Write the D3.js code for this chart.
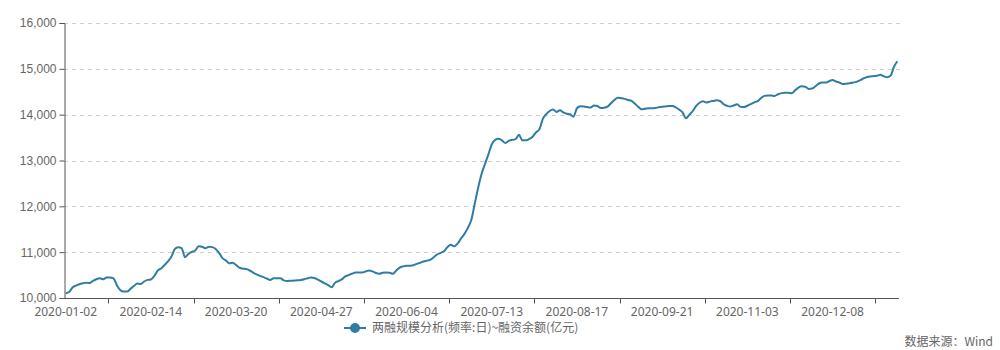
<!DOCTYPE html>
<html>
<head>
<meta charset="utf-8">
<script src="https://cdn.jsdelivr.net/npm/d3@7"></script>
<style>
  html, body { margin: 0; padding: 0; background: #fff; }
  svg { display: block; font-family: "Noto Sans", "Noto Sans CJK SC", sans-serif; }
</style>
</head>
<body>
<svg id="chart" width="1000" height="350"></svg>
<script>
// 融资余额 (亿元), daily
const values = [
  10103,10130,10230,10270,10300,10320,10335,10325,10375,10410,
  10430,10410,10445,10450,10430,10280,10175,10140,10140,10200,
  10260,10315,10305,10360,10395,10405,10480,10600,10645,10720,
  10800,10900,11065,11110,11090,10890,10960,11005,11035,11130,
  11120,11085,11120,11110,11070,10985,10870,10820,10755,10770,
  10720,10660,10640,10635,10600,10555,10515,10482,10455,10425,
  10395,10430,10430,10430,10385,10372,10375,10380,10385,10395,
  10410,10430,10450,10435,10400,10360,10320,10280,10235,10330,
  10370,10405,10470,10500,10530,10554,10555,10555,10580,10598,
  10580,10545,10530,10550,10555,10550,10530,10600,10665,10690,
  10703,10705,10715,10745,10770,10795,10815,10835,10890,10950,
  10985,11020,11110,11160,11130,11190,11300,11400,11530,11700,
  12050,12400,12700,12920,13130,13350,13450,13475,13440,13380,
  13430,13450,13465,13560,13440,13440,13470,13520,13615,13680,
  13910,14010,14080,14115,14060,14095,14050,14020,14008,13957,
  14140,14185,14180,14165,14155,14200,14190,14145,14150,14175,
  14250,14320,14370,14360,14345,14320,14300,14240,14170,14117,
  14128,14139,14139,14145,14160,14172,14180,14189,14189,14160,
  14110,14050,13920,14000,14080,14190,14260,14295,14265,14285,
  14300,14314,14299,14230,14195,14176,14200,14225,14170,14165,
  14195,14230,14270,14295,14360,14410,14420,14420,14410,14445,
  14470,14480,14478,14467,14530,14592,14618,14610,14560,14570,
  14620,14680,14701,14701,14730,14755,14725,14700,14668,14675,
  14685,14700,14716,14750,14789,14815,14833,14840,14847,14870,
  14840,14815,14847,15040,15165
];
const labelDates = ["2020-01-02","2020-02-14","2020-03-20","2020-04-27","2020-06-04",
                    "2020-07-13","2020-08-17","2020-09-21","2020-11-03","2020-12-08"];
const labelIndex = [0,25,50,75,100,125,150,175,200,225];
const tickIndex = [13,38,63,88,113,138,163,188,213,238];
const yTicks = [10000,11000,12000,13000,14000,15000,16000];
const seriesName = "两融规模分析(频率:日)~融资余额(亿元)";
const sourceText = "数据来源：Wind";

(function () {
const svg = d3.select("#chart");
const pl = 64, pr = 899, pt = 23, pb = 298;
const lineColor = "#2f7da2";
const textColor = "#666";

const idx = d3.range(values.length);
const xb = d3.scaleBand().domain(idx).range([pl, pr]).paddingInner(0).paddingOuter(0);
const xc = i => xb(i) + xb.bandwidth() / 2;
const y = d3.scaleLinear().domain([10000, 16000]).range([pb, pt]);

// grid
svg.append("g").selectAll("line").data(yTicks.filter(d => d > 10000)).join("line")
  .attr("x1", pl).attr("x2", pr + 2)
  .attr("y1", d => Math.round(y(d)) + 0.5).attr("y2", d => Math.round(y(d)) + 0.5)
  .attr("stroke", "#cfcfcf").attr("stroke-dasharray", "4,4").attr("stroke-width", 1);

// y axis
const yAxis = d3.axisLeft(y).tickValues(yTicks).tickFormat(d3.format(",")).tickSize(5).tickPadding(3);
const gy = svg.append("g").attr("transform", `translate(${pl + 0.5},0)`).call(yAxis);
gy.select(".domain").attr("stroke", "#555");
gy.selectAll(".tick line").attr("stroke", "#555");
gy.selectAll(".tick text").attr("fill", textColor).style("font-size", "12px");

// x axis
const gx = svg.append("g").attr("transform", `translate(0,${pb + 0.5})`);
gx.append("line").attr("x1", pl).attr("x2", pr).attr("stroke", "#555");
gx.selectAll("line.tk").data(tickIndex).join("line").attr("class", "tk")
  .attr("x1", d => Math.round(xb(d)) + 0.5).attr("x2", d => Math.round(xb(d)) + 0.5)
  .attr("y1", 0).attr("y2", 5).attr("stroke", "#555");
gx.selectAll("text").data(labelIndex).join("text")
  .attr("x", d => xc(d)).attr("y", 17)
  .attr("text-anchor", "middle").attr("fill", textColor).style("font-size", "12px")
  .text((d, i) => labelDates[i]);

// line
const line = d3.line().x((d, i) => xc(i)).y(d => y(d)).curve(d3.curveMonotoneX);
svg.append("path").datum(values).attr("d", line)
  .attr("fill", "none").attr("stroke", lineColor).attr("stroke-width", 2)
  .attr("stroke-linejoin", "round");

// legend
const lg = svg.append("g").attr("transform", "translate(344,328)");
lg.append("line").attr("x1", 0).attr("x2", 22).attr("y1", 0).attr("y2", 0)
  .attr("stroke", lineColor).attr("stroke-width", 2);
lg.append("circle").attr("cx", 11).attr("cy", 0).attr("r", 5).attr("fill", lineColor);
lg.append("text").attr("x", 28).attr("y", 4).attr("fill", textColor)
  .style("font-size", "12px").style("font-family", "'Noto Sans CJK SC', sans-serif")
  .text(seriesName);

// source
svg.append("text").attr("x", 993).attr("y", 346).attr("text-anchor", "end")
  .attr("fill", textColor).style("font-size", "12px")
  .style("font-family", "'Noto Sans CJK SC', sans-serif").text(sourceText);
})();
</script>
</body>
</html>
